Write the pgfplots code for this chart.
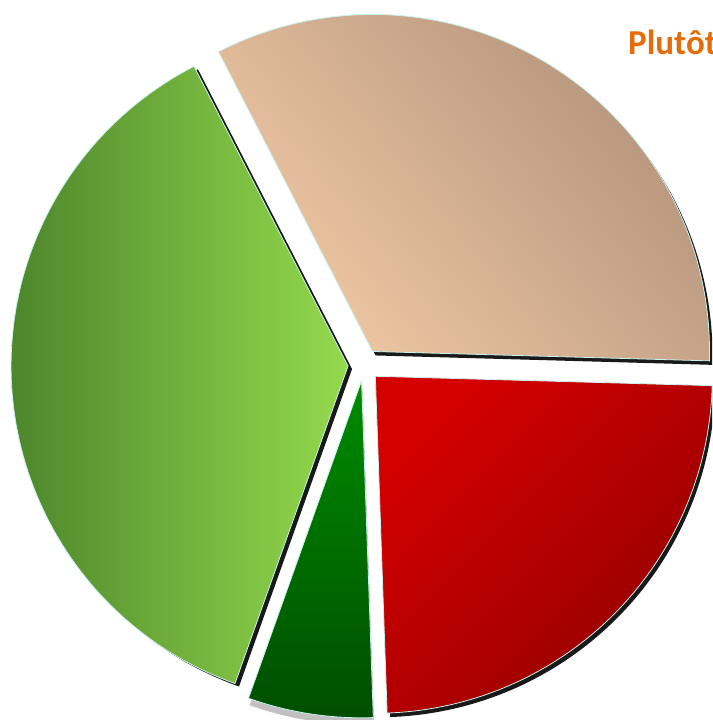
\documentclass[border=0pt]{standalone}
\usepackage{pgfplots}
\usepackage{pgfplotstable}
\pgfplotsset{compat=1.18}
\usepackage{fontspec}
\setmainfont{Carlito}

\definecolor{titleor}{HTML}{E46C0A}
\definecolor{beigeL}{HTML}{F0C8A4}
\definecolor{beigeD}{HTML}{B3937B}
\definecolor{redL}{HTML}{D40000}
\definecolor{redD}{HTML}{940000}
\definecolor{lgL}{HTML}{4E862C}
\definecolor{lgR}{HTML}{94DA4C}
\definecolor{dgT}{HTML}{008C00}
\definecolor{dgB}{HTML}{004E00}
\definecolor{edgecy}{HTML}{C8F2EE}

\pgfplotstableread{
label value
Rouge 24
Beige 33
VertClair 37
VertFonce 6
}\piedata

\newcommand\Rad{337}
% #1 macro, #2 start angle, #3 end angle, #4 explode, #5 dx, #6 dy
\newcommand\mkslice[6]{%
  \pgfmathsetmacro\midang{(#2+#3)/2}%
  \pgfmathsetmacro\cx{364+#4*cos(\midang)+#5}%
  \pgfmathsetmacro\cy{355+#4*sin(\midang)+#6}%
  \xdef#1{(\cx,\cy)}%
  \foreach \k in {0,...,90}{%
    \pgfmathsetmacro\ang{#2+(#3-#2)*\k/90}%
    \pgfmathsetmacro\px{\cx+\Rad*cos(\ang)}%
    \pgfmathsetmacro\py{\cy+\Rad*sin(\ang)}%
    \xdef#1{#1 (\px,\py)}%
  }%
  \xdef#1{#1 (\cx,\cy)}%
}
\newcommand\drawslice[2]{\edef\tmpslice{\noexpand\addplot[#1] coordinates {#2};}\tmpslice}

\pgfplotsset{
  sl red/.style={draw=edgecy, line width=0.8pt, top color=redL, bottom color=redD, shading angle=45},
  sl beige/.style={draw=edgecy, line width=0.8pt, top color=beigeD, bottom color=beigeL, shading angle=-50},
  sl lg/.style={draw=edgecy, line width=0.8pt, left color=lgL, right color=lgR},
  sl dg/.style={draw=edgecy, line width=0.8pt, top color=dgT, bottom color=dgB},
  sl shadow/.style={draw=none, fill=black, fill opacity=0.9},
  sl gshadow/.style={draw=none, fill=black!30, fill opacity=0.8},
}

\begin{document}
\begin{tikzpicture}
\path[use as bounding box] (0,0) rectangle (712pt,720pt);
\clip (0,0) rectangle (712pt,720pt);
% angles from the values
\pgfplotstablegetelem{0}{value}\of\piedata \let\va\pgfplotsretval
\pgfplotstablegetelem{1}{value}\of\piedata \let\vb\pgfplotsretval
\pgfplotstablegetelem{2}{value}\of\piedata \let\vc\pgfplotsretval
\pgfplotstablegetelem{3}{value}\of\piedata \let\vd\pgfplotsretval
\pgfmathsetmacro\aA{-88}
\pgfmathsetmacro\aB{\aA+3.6*\va}
\pgfmathsetmacro\aC{\aB+3.6*\vb}
\pgfmathsetmacro\aD{\aC+3.6*\vc}
\pgfmathsetmacro\aE{\aD+3.6*\vd}
\mkslice{\cRed}{\aA}{\aB}{16}{0}{0}
\mkslice{\cBeige}{\aB}{\aC}{16}{0}{0}
\mkslice{\cLg}{\aC}{\aD}{16}{0}{0}
\mkslice{\cDg}{\aD}{\aE}{16}{0}{0}
\mkslice{\sRed}{\aA}{\aB}{16}{3}{-4}
\mkslice{\sBeige}{\aB}{\aC}{16}{3}{-4}
\mkslice{\sLg}{\aC}{\aD}{16}{4}{-3}
\mkslice{\sDg}{\aD}{\aE}{16}{1}{-7}
\begin{axis}[at={(0,0)}, anchor=south west, scale only axis,
  width=712pt, height=720pt, xmin=0, xmax=712, ymin=0, ymax=720,
  hide axis, clip=false]
\drawslice{sl shadow}{\sRed}
\drawslice{sl shadow}{\sBeige}
\drawslice{sl shadow}{\sLg}
\drawslice{sl gshadow}{\sDg}
\drawslice{sl red}{\cRed}
\drawslice{sl beige}{\cBeige}
\drawslice{sl lg}{\cLg}
\drawslice{sl dg}{\cDg}
\node[anchor=base west, text=titleor, inner sep=0pt,
  font=\fontsize{35}{42}\selectfont\bfseries] at (axis cs:628,665) {Plutôt};
\end{axis}
\end{tikzpicture}
\end{document}
